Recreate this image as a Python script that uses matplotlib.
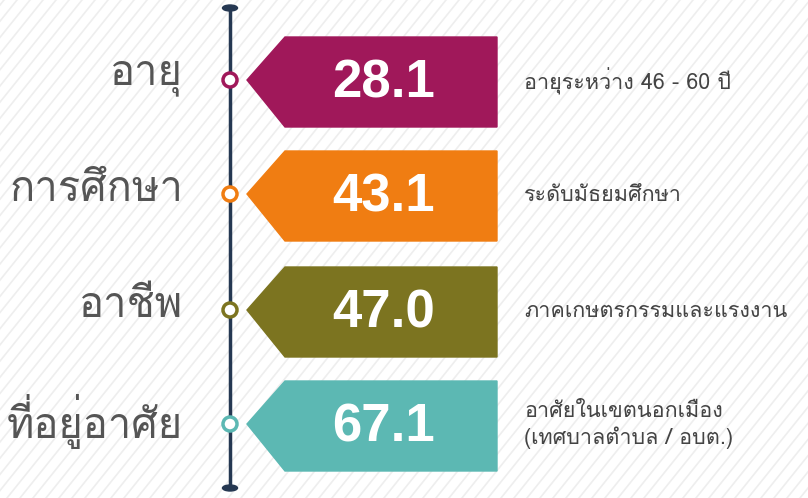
import matplotlib
matplotlib.use("Agg")
import matplotlib.pyplot as plt
from matplotlib import font_manager
from matplotlib.ft2font import FT2Font
from matplotlib.patches import Polygon, Circle, Ellipse

# data
categories = ["อายุ", "การศึกษา", "อาชีพ", "ที่อยู่อาศัย"]
values = [28.1, 43.1, 47.0, 67.1]
details = ["อายุระหว่าง 46 - 60 ปี",
           "ระดับมัธยมศึกษา",
           "ภาคเกษตรกรรมและแรงงาน",
           "อาศัยในเขตนอกเมือง\n(เทศบาลตำบล / อบต.)"]
colors = ["#A0185A", "#F07D12", "#7C7420", "#5CB8B3"]

# find a family that has Thai glyphs
thai_family = None
for f in font_manager.fontManager.ttflist:
    try:
        if ord("อ") in FT2Font(f.fname).get_charmap():
            thai_family = f.name
            break
    except Exception:
        pass
fam = [thai_family, "DejaVu Sans"] if thai_family else ["DejaVu Sans"]

fig = plt.figure(figsize=(8.08, 4.98), dpi=100)
ax = fig.add_axes([0, 0, 1, 1])
ax.set_xlim(0, 808)
ax.set_ylim(498, 0)
ax.axis("off")

# faint diagonal stripes
for x0 in range(-500, 820, 13):
    ax.plot([x0, x0 + 400], [498, 0], color="#eeeeee", lw=1.2, zorder=0)

line_x = 230
ax.plot([line_x, line_x], [8, 488], color="#253852", lw=2.5, zorder=1)
ax.add_patch(Ellipse((line_x, 8), 15, 6, color="#253852", zorder=2))
ax.add_patch(Ellipse((line_x, 488), 15, 6, color="#253852", zorder=2))

centers = [80, 194, 310, 424]
for i, (cat, val, det, col) in enumerate(zip(categories, values, details, colors)):
    cy = centers[i]
    top, bot = cy - 43, cy + 47
    ax.add_patch(Polygon([(247, cy), (285, top), (497, top), (497, bot), (285, bot)],
                         closed=True, color=col, zorder=2))
    ax.add_patch(Circle((line_x, cy), 7, facecolor="white", edgecolor=col, lw=2.5, zorder=3))
    ax.text(384, cy + 3, f"{val:.1f}", color="white", fontsize=38, fontweight="bold",
            family=["Liberation Sans", "DejaVu Sans"], ha="center", va="center", zorder=4)
    ax.text(183, cy - 3, cat, color="#555555", fontsize=30, family=fam,
            ha="right", va="center", zorder=4)
    ax.text(524, cy + 1, det, color="#444444", fontsize=15.5, family=fam,
            ha="left", va="center", linespacing=1.3, zorder=4)

fig.savefig("out.png", dpi=100, facecolor="white")
